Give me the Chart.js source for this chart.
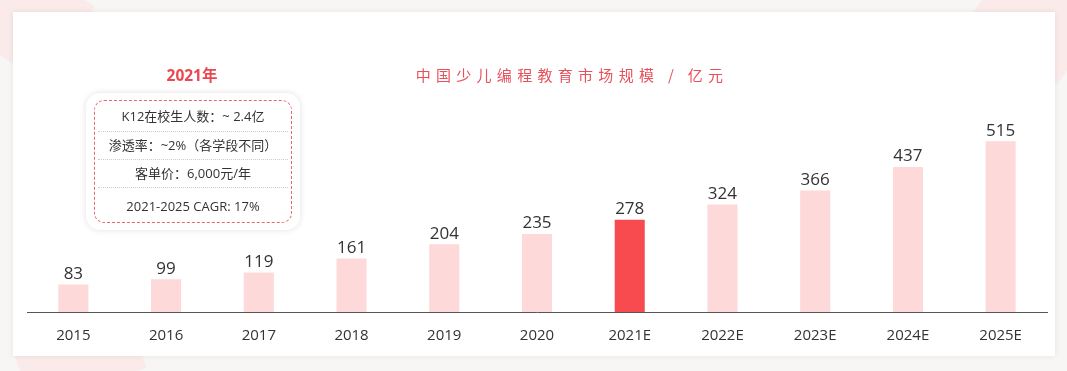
<!DOCTYPE html>
<html>
<head>
<meta charset="utf-8">
<script src="https://cdn.jsdelivr.net/npm/chart.js@4/dist/chart.umd.min.js"></script>
<style>
  html, body { margin: 0; padding: 0; }
  body {
    width: 1067px; height: 371px; overflow: hidden; position: relative;
    background: #f8f5f5;
    font-family: "Open Sans", "Noto Sans CJK SC", sans-serif;
  }
  .blob { position: absolute; background: #fbe3e3; opacity: .6; }
  .card {
    position: absolute; left: 13px; top: 12px; width: 1042px; height: 344px;
    background: #fff; box-shadow: 0 0 6px rgba(0,0,0,.08);
  }
  #wrap { position: absolute; left: 0; top: 0; width: 1067px; height: 371px; }
  .title {
    position: absolute; left: 370px; width: 404px; top: 64px; text-align: center;
    color: #e8505b; font-size: 15px; letter-spacing: 5.3px;
    font-family: "Noto Sans CJK SC", sans-serif;
  }
  .year {
    position: absolute; left: 142px; width: 100px; top: 63px; text-align: center;
    color: #ea4850; font-size: 15.5px; font-weight: bold;
    font-family: "Open Sans", "Noto Sans CJK SC", sans-serif;
  }
  .box {
    position: absolute; left: 86px; top: 93px; width: 214px; height: 137px;
    background: #fff; border-radius: 14px; box-shadow: 0 0 6px rgba(0,0,0,.12);
  }
  .inner {
    position: absolute; left: 8px; top: 7px; right: 8px; bottom: 7px;
    border: 1.3px dashed #e86670; border-radius: 10px;
  }
  .row {
    text-align: center; font-size: 13px; color: #333;
    border-bottom: 1px dotted #ccc; margin: 0 3px;
  }
  .row:last-child { border-bottom: none; }
</style>
</head>
<body>
<div class="blob" style="left:-40px;top:-30px;width:120px;height:90px;transform:rotate(30deg);"></div>
<div class="blob" style="left:20px;top:330px;width:120px;height:60px;transform:rotate(-20deg);"></div>
<div class="blob" style="left:980px;top:-20px;width:110px;height:80px;transform:rotate(35deg);"></div>
<div class="card"></div>
<div id="wrap"><canvas id="chart"></canvas></div>
<div class="title">中国少儿编程教育市场规模 / 亿元</div>
<div class="year">2021年</div>
<div class="box">
  <div class="inner">
    <div class="row" style="height:30px;line-height:30px;">K12在校生人数：~ 2.4亿</div>
    <div class="row" style="height:27px;line-height:27px;">渗透率：~2%（各学段不同）</div>
    <div class="row" style="height:27px;line-height:27px;">客单价：6,000元/年</div>
    <div class="row" style="height:36px;line-height:36px;">2021-2025 CAGR: 17%</div>
  </div>
</div>
<script>
// 数据
const categories = ['2015','2016','2017','2018','2019','2020','2021E','2022E','2023E','2024E','2025E'];
const marketSize = [83, 99, 119, 161, 204, 235, 278, 324, 366, 437, 515];
const highlightIndex = 6;

const barColors = marketSize.map((v, i) => i === highlightIndex ? '#f84b50' : '#fdd9d9');

// 柱顶数值
const valueLabels = {
  id: 'valueLabels',
  afterDatasetsDraw(chart) {
    const ctx = chart.ctx;
    const meta = chart.getDatasetMeta(0);
    ctx.save();
    ctx.font = '17px "Open Sans", sans-serif';
    ctx.fillStyle = '#333';
    ctx.textAlign = 'center';
    ctx.textBaseline = 'bottom';
    meta.data.forEach((bar, i) => {
      ctx.fillText(String(marketSize[i]), bar.x, bar.y - 2);
    });
    ctx.restore();
  }
};

new Chart(document.getElementById('chart').getContext('2d'), {
  type: 'bar',
  data: {
    labels: categories,
    datasets: [{
      data: marketSize,
      backgroundColor: barColors,
      categoryPercentage: 1,
      barPercentage: 0.324
    }]
  },
  options: {
    responsive: true,
    maintainAspectRatio: false,
    animation: false,
    layout: { padding: { left: 27, right: 20, top: 113, bottom: 11 } },
    scales: {
      x: {
        grid: { display: false, drawTicks: false },
        border: { color: '#555', width: 1 },
        ticks: { color: '#333', padding: 15, font: { size: 15, family: '"Open Sans", sans-serif' } }
      },
      y: {
        display: false,
        min: 0,
        max: 600
      }
    },
    plugins: { legend: { display: false }, tooltip: { enabled: false } }
  },
  plugins: [valueLabels]
});
</script>
</body>
</html>
